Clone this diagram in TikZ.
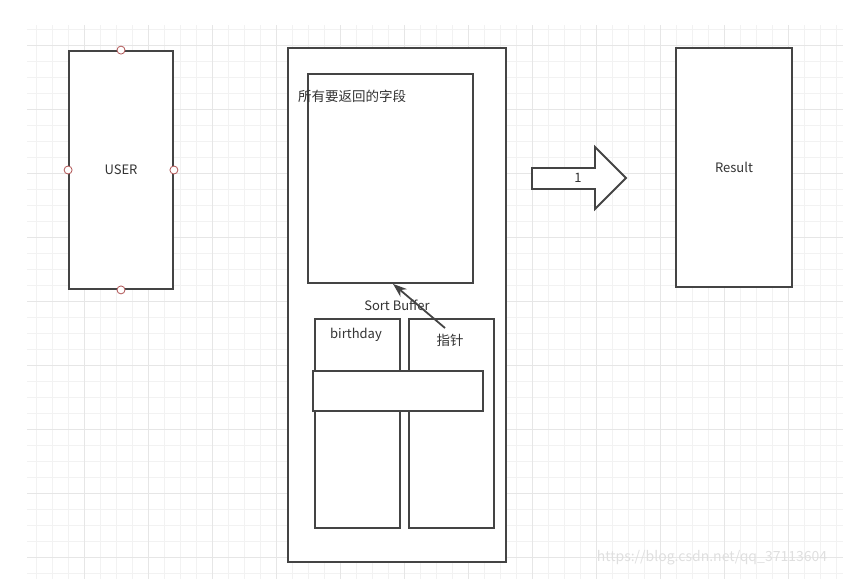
\documentclass[tikz,border=0pt]{standalone}
\usepackage{fontspec}
\setmainfont{Noto Sans CJK SC}
\usetikzlibrary{arrows.meta}
\definecolor{edge}{HTML}{444444}
\definecolor{ink}{HTML}{333333}
\definecolor{portred}{HTML}{B05555}
\definecolor{gridminor}{HTML}{F2F2F2}
\definecolor{gridmajor}{HTML}{E6E6E6}

\begin{document}
\begin{tikzpicture}[x=1pt,y=-1pt,font=\fontsize{13}{15}\selectfont,text=ink,
  box/.style={draw=edge,line width=1.8pt,fill=white,inner sep=0pt},
  port/.style={circle,draw=portred,fill=white,line width=0.8pt,inner sep=0pt,minimum size=8pt},
  arr/.style={-{Stealth[length=14pt,width=10pt]},draw=edge,line width=1.8pt},
  minor/.style={draw=gridminor,line width=0.8pt},
  major/.style={draw=gridmajor,line width=0.8pt},
  cjk/.style={font=\fontsize{13.5}{15}\selectfont}]
  \useasboundingbox (0,0) rectangle (843,579);
  % background grid, minor lines first, then every fourth one darker
  \foreach \gx in {36.7,52.7,...,843} { \draw[minor] (\gx,25) -- (\gx,579); }
  \foreach \gy in {29,45,...,579} { \draw[minor] (27,\gy) -- (843,\gy); }
  \foreach \gx in {84.3,148.3,...,843} { \draw[major] (\gx,25) -- (\gx,579); }
  \foreach \gy in {45,109,...,579} { \draw[major] (27,\gy) -- (843,\gy); }
  % The user table with its four connection points.
  \node[box,minimum width=104pt,minimum height=238pt] (user) at (121,170) {USER};
  \foreach \a in {north,west,east,south} { \node[port] (user-\a) at (user.\a) {}; }
  % Sort buffer: the returned fields on top, the sort columns below.
  \node[box,minimum width=218pt,minimum height=514pt] (buffer) at (397,305) {Sort Buffer};
  \node[box,minimum width=165pt,minimum height=209pt] (fields) at (390.5,178.5) {};
  \node[cjk,anchor=west,inner sep=0pt] (fieldsname) at (298,96) {所有要返回的字段};
  \node[box,minimum width=85pt,minimum height=209pt] (birthday) at (357.5,423.5) {};
  \node[box,minimum width=85pt,minimum height=209pt] (pointer) at (451.5,423.5) {};
  \node (birthdayname) at (356,335) {birthday};
  \node[cjk] (pointername) at (450,340) {指针};
  \node[box,minimum width=170pt,minimum height=40pt] (bar) at (398,391) {};
  \coordinate (ptrtail) at (445,328);
  \draw[arr] (ptrtail) -- ([xshift=2.5pt]fields.south);
  % Step 1: hand the rows over.
  \draw[box,line join=miter] (532,168) -- (595,168) -- (595,147) -- (626,178)
    -- (595,209) -- (595,189) -- (532,189) -- cycle;
  \node (step1) at (578,178) {1};
  \node[box,minimum width=116pt,minimum height=239pt] (result) at (734,167.5) {Result};
  \node[text=gray!25,font=\fontsize{14}{16}\selectfont] (mark) at (712,558)
    {https://blog.csdn.net/qq\_37113604};
\end{tikzpicture}
\end{document}
